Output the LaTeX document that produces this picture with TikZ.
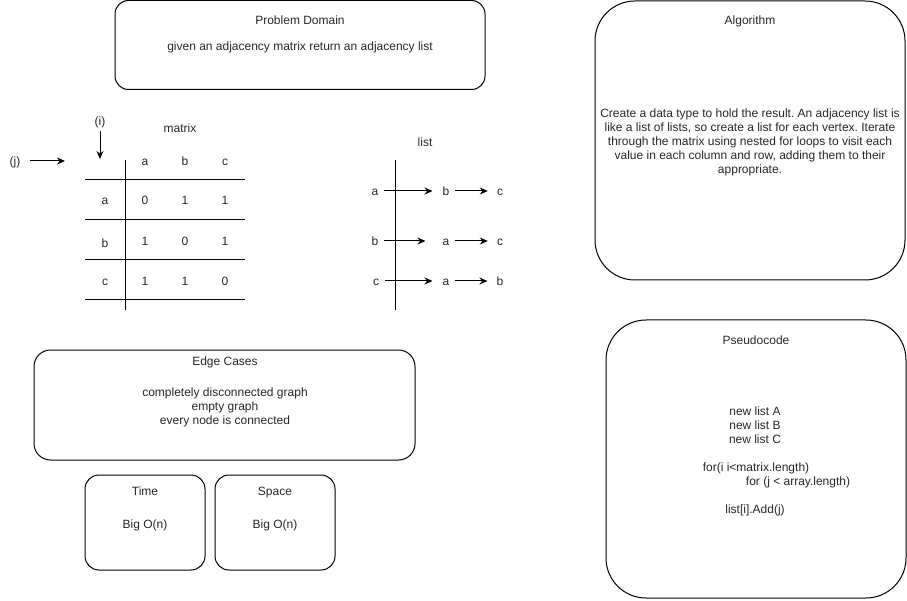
\documentclass[tikz,border=0pt]{standalone}
\usepackage{fontspec}
\setmainfont{Liberation Sans}
\usetikzlibrary{arrows.meta}
\begin{document}
\frenchspacing
\begin{tikzpicture}[x=1pt,y=-1pt,
  box/.style={draw,line width=1pt,rounded corners=#1,inner sep=0pt},
  txt/.style={font=\fontsize{12}{14}\selectfont,inner sep=0pt,anchor=center,text=black!85},
  lbl/.style={txt,text height=9.4pt,text depth=0pt},
  arr/.style={line width=1pt,-{Stealth[length=8pt,width=7pt]}},
  gridline/.style={line width=1pt}]
\useasboundingbox (0,0) rectangle (907,601);

% ---------- boxes ----------
\node[box=13.5pt,minimum width=370pt,minimum height=89pt] (pd) at (300,45) {};
\node[lbl] (pdt) at (300,20) {Problem Domain};
\node[lbl] (pdb) at (300,46) {given an adjacency matrix return an adjacency list};

\node[box=40pt,minimum width=310pt,minimum height=279pt] (alg) at (750,140.5) {};
\node[lbl] (algt) at (750,20) {Algorithm};
\node[txt,align=center] (algb) at (750,142.5) {Create a data type to hold the result. An adjacency list is\\like a list of lists, so create a list for each vertex. Iterate\\through the matrix using nested for loops to visit each\\value in each column and row, adding them to their\\appropriate.};

\node[box=40pt,minimum width=300pt,minimum height=278pt] (ps) at (756,459) {};
\node[lbl] (pst) at (756,340) {Pseudocode};
\node[lbl] (ps1) at (755,411) {new list A};
\node[lbl] (ps2) at (755,425) {new list B};
\node[lbl] (ps3) at (755,439) {new list C};
\node[lbl] (ps4) at (756,467) {for(i i<matrix.length)};
\node[lbl] (ps5) at (798,481) {for (j < array.length)};
\node[lbl] (ps6) at (755,509) {list[i].Add(j)};

\node[box=16.5pt,minimum width=381pt,minimum height=110pt] (ec) at (224.5,405) {};
\node[lbl] (ect) at (225,361) {Edge Cases};
\node[txt,align=center] (ecb) at (225,407.5) {completely disconnected graph\\empty graph\\every node is connected};

\node[box=14pt,minimum width=120pt,minimum height=95pt] (tm) at (145,522.5) {};
\node[lbl] (tmt) at (145,491) {Time};
\node[lbl] (tmb) at (145,524) {Big O(n)};

\node[box=14pt,minimum width=120pt,minimum height=95pt] (sp) at (275,522.5) {};
\node[lbl] (spt) at (275,491) {Space};
\node[lbl] (spb) at (275,524) {Big O(n)};

% ---------- matrix ----------
\node[lbl] (mt) at (180,128) {matrix};
\node[lbl] (mi) at (100,121) {(i)};
\node[lbl] (mj) at (15,161) {(j)};
\coordinate (istart) at (100,131);
\coordinate (iend) at (100,159);
\coordinate (jstart) at (30,161);
\coordinate (jend) at (65,161);
\draw[arr] (istart) -- (iend);
\draw[arr] (jstart) -- (jend);

\draw[gridline] (125,160) -- (125,310);
\foreach \yy in {180,220,260,300} \draw[gridline] (85,\yy) -- (245,\yy);

\node[lbl] (ca) at (145,161) {a};
\node[lbl] (cb) at (185,161) {b};
\node[lbl] (cc) at (225,161) {c};
\node[lbl] (ra) at (105,200) {a};
\node[lbl] (rb) at (105,243) {b};
\node[lbl] (rc) at (105,281) {c};
\node[lbl] at (145,200) {0};
\node[lbl] at (185,200) {1};
\node[lbl] at (225,200) {1};
\node[lbl] at (145,241) {1};
\node[lbl] at (185,241) {0};
\node[lbl] at (225,241) {1};
\node[lbl] at (145,281) {1};
\node[lbl] at (185,281) {1};
\node[lbl] at (225,281) {0};

% ---------- list ----------
\node[lbl] (lt) at (425,142) {list};
\draw[gridline] (395,160) -- (395,310);

\node[lbl] (a0) at (375,191) {a};
\node[lbl] (a1) at (446,191) {b};
\node[lbl] (a2) at (500,191) {c};
\node[lbl] (b0) at (375,241) {b};
\node[lbl] (b1) at (446,241) {a};
\node[lbl] (b2) at (500,241) {c};
\node[lbl] (c0) at (376,281) {c};
\node[lbl] (c1) at (446,281) {a};
\node[lbl] (c2) at (500,281) {b};

\draw[arr,shorten <=5.5pt,shorten >=10pt] (a0.east) -- (a1.west);
\draw[arr,shorten <=5pt,shorten >=9pt] (a1.east) -- (a2.west);
\draw[arr,shorten <=5.5pt,shorten >=17pt] (b0.east) -- (b1.west);
\draw[arr,shorten <=5pt,shorten >=9pt] (b1.east) -- (b2.west);
\draw[arr,shorten <=6pt,shorten >=10pt] (c0.east) -- (c1.west);
\draw[arr,shorten <=5pt,shorten >=9pt] (c1.east) -- (c2.west);
\end{tikzpicture}
\end{document}
